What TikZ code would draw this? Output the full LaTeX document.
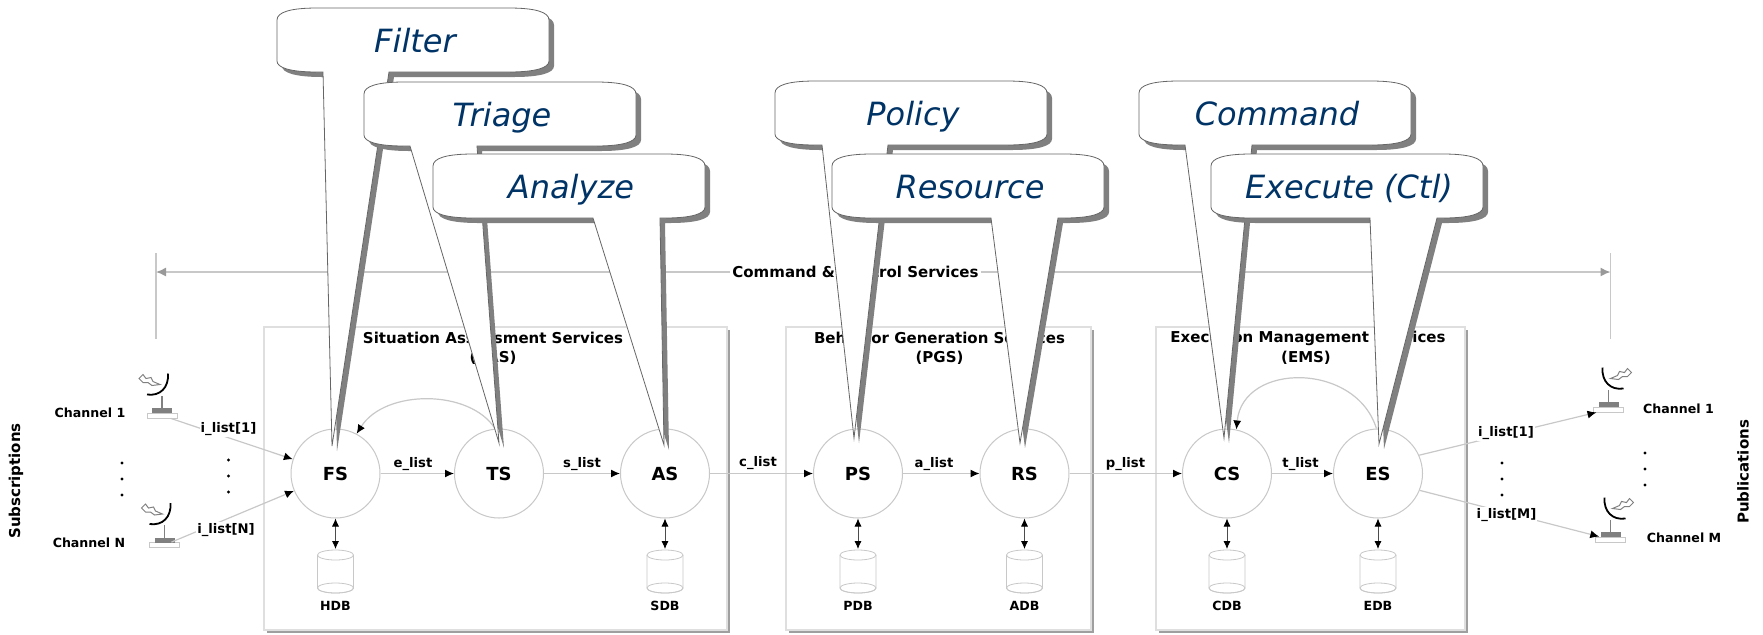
\documentclass[tikz,border=0pt]{standalone}
\usepackage{fontspec}
\setmainfont{DejaVu Sans}
\usepackage{tikz}
\usetikzlibrary{arrows.meta}
\definecolor{bubbletext}{HTML}{003366}
\definecolor{bubbleband}{HTML}{808080}
\definecolor{bubbleline}{HTML}{666666}
\definecolor{thinline}{HTML}{C8C8C8}
\tikzset{
    svc/.style={shape=circle,draw=thinline,fill=white,line width=0.5pt,inner sep=0pt,minimum size=44.5pt,font=\bfseries\fontsize{9}{11}\selectfont},
    lbl/.style={inner sep=0.5pt,font=\bfseries\fontsize{6.6}{8}\selectfont},
    gaplbl/.style={lbl,fill=white},
    smalllbl/.style={inner sep=0pt,font=\bfseries\fontsize{6.3}{8}\selectfont},
    titlelbl/.style={inner sep=0pt,font=\bfseries\fontsize{7.5}{9}\selectfont},
    bubblelbl/.style={inner sep=0pt,anchor=base,text=bubbletext,font=\itshape\fontsize{16}{19}\selectfont},
    flow/.style={draw=thinline,line width=0.6pt,-{Latex[black,length=4.5pt,width=4pt]}},
    duplex/.style={draw=black!70,line width=0.4pt,{Latex[black,length=4pt,width=3.5pt]}-{Latex[black,length=4pt,width=3.5pt]}},
    span/.style={draw=thinline,line width=0.7pt,-{Latex[bubbleband!80,length=5pt,width=4.5pt]}},
    basebox/.style={shape=rectangle,draw=thinline,fill=white,line width=0.4pt,inner sep=0pt,minimum width=15pt,minimum height=2.5pt},
    cylline/.style={draw=thinline,line width=0.4pt},
}
\newcommand{\svcbox}[4]{ \fill[gray!75] (#1+2.5,#2+2.5) rectangle (#3+2.5,#4+2.5); \draw[fill=white,draw=gray!25,line width=0.7pt] (#1,#2) rectangle (#3,#4);}
\newcommand{\dbase}[3]{ \draw[cylline,fill=white] (#1-18,555) -- (#1-18,588) arc[start angle=180,end angle=360,x radius=18,y radius=-5] -- (#1+18,555); \draw[cylline] (#1,555) ellipse [x radius=18,y radius=5]; \draw[cylline] (#1,588) ellipse [x radius=18,y radius=5]; \coordinate (#2top) at (#1,549); \node[smalllbl] (#2) at (#1,606) {#3};}
\newcommand{\dotcol}[2]{ \foreach \k in {0,16,32} { \fill (#1,#2+\k) circle [radius=1.6]; }}
\newcommand{\antenna}[4]{
    \node[basebox] (#4) at (#1,#2) {};
    \begin{scope}[shift={(#1,#2)},xscale=#3]
        \fill[bubbleband] (-10,-7.5) rectangle (10,-2.5);
        \draw[bubbleband,line width=0.6pt] (0,-7.5) -- (0,-20);
        \draw[black,line width=0.9pt] (6,-42) .. controls (7,-28) and (-2,-19) .. (-15,-21);
        \draw[gray,line width=0.5pt] (-23,-37) -- (-19,-41) -- (-16,-37) -- (-11,-38) -- (-9,-34) -- (-2,-31) -- (-10,-30) -- (-14,-33) -- (-19,-33) -- cycle;
    \end{scope}
}
\newcommand{\bubblepath}[6]{ (#1+40,#2) -- (#1+232,#2) .. controls (#1+258,#2) and (#1+272,#2+4) .. (#1+272,#2+12) -- (#1+272,#2+53) .. controls (#1+272,#2+60) and (#1+258,#2+64) .. (#1+232,#2+64) -- (#4,#2+64) -- (#5,#6) -- (#3,#2+64) -- (#1+40,#2+64) .. controls (#1+14,#2+64) and (#1,#2+60) .. (#1,#2+53) -- (#1,#2+12) .. controls (#1,#2+4) and (#1+14,#2) .. (#1+40,#2) -- cycle}
\newcommand{\bubble}[8]{
    \fill[bubbleband] \bubblepath{#1+5}{#2+5}{#3+5}{#4+5}{#5+5}{#6+5};
    \draw[fill=white,draw=bubbleline,line width=0.4pt] \bubblepath{#1}{#2}{#3}{#4}{#5}{#6};
    \node[bubblelbl] (#7) at (#1+138,#2+44) {#8};
}

\begin{document}
\begin{tikzpicture}[x=0.5pt,y=-0.5pt]
        \useasboundingbox (0,0) rectangle (1763,634);
        % service boxes
        \svcbox{264}{327}{727}{630}
        \svcbox{786}{327}{1091}{630}
        \svcbox{1156}{327}{1465}{630}
        \node[titlelbl] (sastitle) at (493,338) {Situation Assessment Services};
        \node[titlelbl] (sasabbr) at (493,358) {(SAS)};
        \node[titlelbl] (pgstitle) at (939.5,338) {Behavior Generation Services};
        \node[titlelbl] (pgsabbr) at (939.5,358) {(PGS)};
        \node[titlelbl] (emstitle) at (1308,338) {Execution Management Services};
        \node[titlelbl] (emsabbr) at (1306,358) {(EMS)};
        % command and control span
        \coordinate (spanL) at (156,272);
        \coordinate (spanR) at (1610.5,272);
        \coordinate (tickLa) at (156,253);
        \coordinate (tickLb) at (156,339);
        \coordinate (tickRa) at (1610.5,253);
        \coordinate (tickRb) at (1610.5,339);
        \draw[thinline,line width=0.6pt] (tickLa) -- (tickLb);
        \draw[thinline,line width=0.6pt] (tickRa) -- (tickRb);
        \node[titlelbl,inner sep=1pt] (spanlbl) at (855.5,272) {Command \& Control Services};
        \draw[span] (spanlbl) -- (spanL);
        \draw[span] (spanlbl) -- (spanR);
        % services
        \node[svc] (FS) at (335.5,473.5) {FS};
        \node[svc] (TS) at (499,473.5) {TS};
        \node[svc] (AS) at (665,473.5) {AS};
        \node[svc] (PS) at (858,473.5) {PS};
        \node[svc] (RS) at (1024.5,473.5) {RS};
        \node[svc] (CS) at (1227,473.5) {CS};
        \node[svc] (ES) at (1378,473.5) {ES};
        % lists
        \draw[flow] (FS) -- (TS);
        \draw[flow] (TS) -- (AS);
        \draw[flow] (AS) -- (PS);
        \draw[flow] (PS) -- (RS);
        \draw[flow] (RS) -- (CS);
        \draw[flow] (CS) -- (ES);
        \draw[flow] (TS.95) .. controls (470,389) and (385,389) .. (FS.62);
        \draw[flow] (ES.92) .. controls (1356,362) and (1243,362) .. (CS.78);
        \node[lbl] (elist) at (413,464) {e\_list};
        \node[lbl] (slist) at (582,464) {s\_list};
        \node[lbl] (clist) at (758,463) {c\_list};
        \node[lbl] (alist) at (934,464) {a\_list};
        \node[lbl] (plist) at (1125.5,464) {p\_list};
        \node[lbl] (tlist) at (1300.5,464) {t\_list};
        % databases
        \dbase{335.5}{HDB}{HDB}
        \dbase{665}{SDB}{SDB}
        \dbase{858}{PDB}{PDB}
        \dbase{1024.5}{ADB}{ADB}
        \dbase{1227}{CDB}{CDB}
        \dbase{1378}{EDB}{EDB}
        \draw[duplex] (FS) -- (HDBtop);
        \draw[duplex] (AS) -- (SDBtop);
        \draw[duplex] (PS) -- (PDBtop);
        \draw[duplex] (RS) -- (ADBtop);
        \draw[duplex] (CS) -- (CDBtop);
        \draw[duplex] (ES) -- (EDBtop);
        % subscriptions
        \antenna{162}{415.5}{1}{subA}
        \antenna{164.5}{545}{1}{subN}
        \draw[flow] (subA) -- (FS);
        \draw[flow] (subN) -- (FS);
        \node[gaplbl] (ilistA) at (228.5,429) {i\_list[1]};
        \node[gaplbl] (ilistN) at (226,530) {i\_list[N]};
        \node[smalllbl] (chanA) at (90,413) {Channel 1};
        \node[smalllbl] (chanN) at (89,543) {Channel N};
        \node[titlelbl,rotate=90] (subs) at (16,481) {Subscriptions};
        \dotcol{122}{463}
        \dotcol{228.5}{460}
        % publications
        \antenna{1608.5}{409.5}{-1}{pubA}
        \antenna{1610.5}{539.5}{-1}{pubM}
        \draw[flow] (ES.24) -- (pubA);
        \draw[flow] (ES.-22) -- (pubM);
        \node[gaplbl] (olistA) at (1506,433) {i\_list[1]};
        \node[gaplbl] (olistM) at (1506.5,515) {i\_list[M]};
        \node[smalllbl] (outA) at (1678.5,409) {Channel 1};
        \node[smalllbl] (outM) at (1684,538) {Channel M};
        \node[titlelbl,rotate=90] (pubs) at (1743,472) {Publications};
        \dotcol{1502}{463}
        \dotcol{1645}{453}
        % bubbles
        \bubble{277}{8}{323}{389}{332}{446}{filter}{Filter}
        \bubble{364}{82}{410}{477}{499}{443}{triage}{Triage}
        \bubble{433}{154}{593}{660}{664}{445}{analyze}{Analyze}
        \bubble{775}{81}{822}{888}{854}{438}{policy}{Policy}
        \bubble{832}{154}{991}{1058}{1020}{443}{resource}{Resource}
        \bubble{1139}{81}{1185}{1252}{1224}{438}{command}{Command}
        \bubble{1211}{154}{1370}{1437}{1379}{444}{execute}{Execute (Ctl)}
\end{tikzpicture}
\end{document}
